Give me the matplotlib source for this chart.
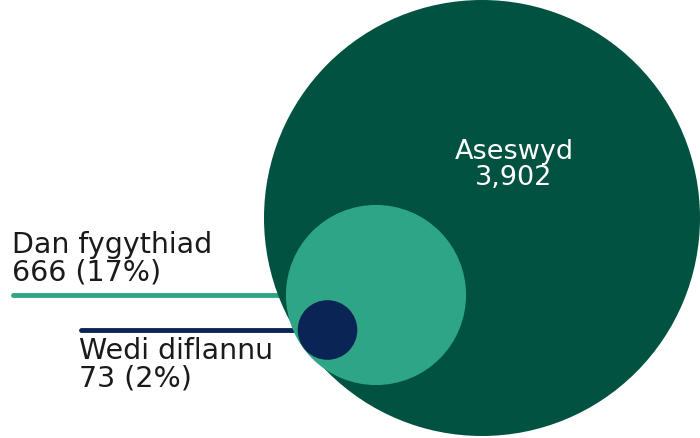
import numpy as np
import matplotlib
matplotlib.use('Agg')
import matplotlib.pyplot as plt
from matplotlib.patches import Circle

# data
labels = ['Aseswyd', 'Dan fygythiad', 'Wedi diflannu']
values = [3902, 666, 73]
value_text = ['3,902', '666 (17%)', '73 (2%)']
colors = ['#015241', '#2ea686', '#0b2456']

fig = plt.figure(figsize=(7, 4.39), dpi=100)
ax = fig.add_axes([0, 0, 1, 1])
ax.set_xlim(0, 700)
ax.set_ylim(439, 0)
ax.set_aspect('equal')
ax.axis('off')

# radius scale: area proportional to value
scale = 218 / np.sqrt(values[0])
radii = [scale * np.sqrt(v) for v in values]
centers = [(482, 219), (376, 296), (327.5, 331)]

for (cx, cy), r, c in zip(centers, radii, colors):
    ax.add_patch(Circle((cx, cy), r, color=c, lw=0, zorder=2))

# leader lines
ax.plot([13, centers[1][0] - radii[1] + 2], [centers[1][1]] * 2, color=colors[1], lw=3.5,
        solid_capstyle='round', zorder=1)
ax.plot([81, centers[2][0] - radii[2] + 2], [centers[2][1]] * 2, color=colors[2], lw=3.5,
        solid_capstyle='round', zorder=1)

font = 'DejaVu Sans'
fs = 20.5
ax.text(514, 165, labels[0] + '\n' + value_text[0], color='white', fontsize=19.5,
        ha='center', va='center', family=font, linespacing=1.0)
ax.text(12, 259, labels[1] + '\n' + value_text[1], color='#1a1a1a', fontsize=fs,
        ha='left', va='center', family=font, linespacing=1.0)
ax.text(79, 365, labels[2] + '\n' + value_text[2], color='#1a1a1a', fontsize=fs,
        ha='left', va='center', family=font, linespacing=1.0)

fig.savefig('out.png', dpi=100)
